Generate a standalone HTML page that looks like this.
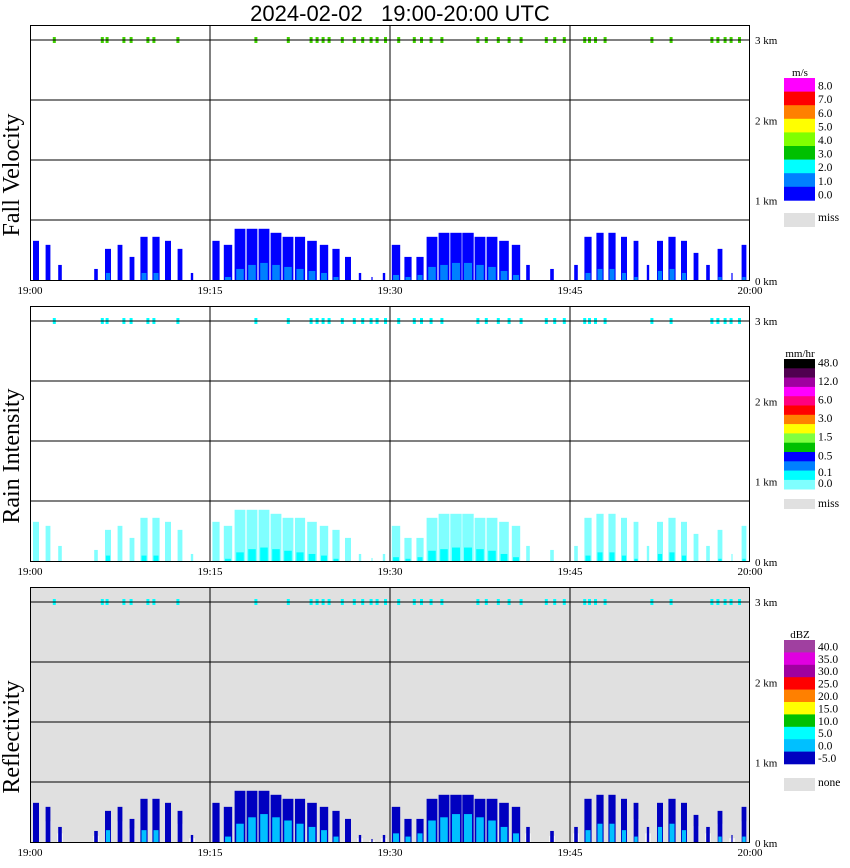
<!DOCTYPE html>
<html><head><meta charset="utf-8"><style>
html,body{margin:0;padding:0;background:#fff;}
svg{display:block;}
text{font-family:"Liberation Serif",serif;}
</style></head><body>
<svg id="chart" width="850" height="868" xmlns="http://www.w3.org/2000/svg">
<text x="400" y="21" text-anchor="middle" font-size="22" style="font-family:'Liberation Sans',sans-serif;white-space:pre" xml:space="preserve">2024-02-02   19:00-20:00 UTC</text>
</svg>
<script>
// ---- data ----
const timeTicks = ["19:00","19:15","19:30","19:45","20:00"];
const kmTicks = ["3 km","2 km","1 km","0 km"];
const kmValues = [3,2,1,0];
// echo top height (km) per minute 0..59
const echoTop = [0.5,0.45,0.2,0,0,0.15,0.4,0.45,0.3,0.55,0.55,0.5,0.4,0.1,0,0.5,0.45,0.65,0.65,0.65,0.6,0.55,0.55,0.5,0.45,0.4,0.3,0.1,0.05,0.1,0.45,0.3,0.3,0.55,0.6,0.6,0.6,0.55,0.55,0.5,0.45,0.2,0,0.15,0,0.2,0.55,0.6,0.6,0.55,0.5,0.2,0.5,0.55,0.5,0.35,0.2,0.4,0.1,0.45];
// coverage fraction per minute
const coverage = [0.5,0.4,0.3,0,0,0.3,0.5,0.4,0.4,0.6,0.6,0.5,0.4,0.2,0,0.6,0.7,0.9,0.9,0.9,0.9,0.9,0.85,0.8,0.7,0.6,0.5,0.2,0.1,0.2,0.7,0.6,0.6,0.9,0.9,0.95,0.95,0.9,0.9,0.8,0.7,0.3,0,0.3,0,0.3,0.6,0.6,0.6,0.5,0.4,0.2,0.5,0.6,0.5,0.4,0.3,0.4,0.1,0.4];
// core (stronger echo) height (km) per minute
const coreTop = [0,0,0,0,0,0,0.2,0,0,0.2,0.2,0,0,0,0,0,0.1,0.3,0.4,0.45,0.4,0.35,0.3,0.25,0.2,0.1,0,0,0,0,0.15,0.1,0.15,0.35,0.4,0.45,0.45,0.4,0.35,0.25,0.15,0,0,0,0,0,0.2,0.3,0.3,0.2,0.1,0,0.25,0.3,0.2,0,0,0.1,0,0.1];
// cloud speckles near 3 km (minutes)
const topDots = [1.9,5.9,6.3,7.7,8.3,9.7,10.2,12.2,18.7,21.4,23.3,23.8,24.3,24.8,25.9,26.9,27.6,28.3,28.8,29.5,30.6,31.9,32.5,33.3,34.2,37.2,37.9,38.9,39.8,40.8,42.9,43.6,44.4,46.1,46.5,47,47.8,51.7,53.3,56.7,57.2,57.8,58.3,59];
const velColors = ["#ff00ff","#ff0000","#ff8000","#ffff00","#80ff00","#00c000","#00ffff","#0080ff","#0000ff"];
const velLabels = ["8.0","7.0","6.0","5.0","4.0","3.0","2.0","1.0","0.0"];
const rainColors = ["#000000","#500050","#a000a0","#ff00ff","#ff0080","#ff0000","#ff8000","#ffff00","#80ff40","#00c000","#0000ff","#0080ff","#00ffff","#80ffff"];
const rainLabels = ["48.0","","12.0","","6.0","","3.0","","1.5","","0.5","","0.1","0.0"];
const dbzColors = ["#a040a0","#e000e0","#a000a0","#ff0000","#ff8000","#ffff00","#00c000","#00ffff","#00c0ff","#0000c0"];
const dbzLabels = ["40.0","35.0","30.0","25.0","20.0","15.0","10.0","5.0","0.0","-5.0"];

const svg=document.getElementById('chart');
const NS="http://www.w3.org/2000/svg";
function mk(tag,attrs,parent){const e=document.createElementNS(NS,tag);for(const k in attrs)e.setAttribute(k,attrs[k]);(parent||svg).appendChild(e);return e;}
const X0=30,X1=750;
const xs=m=>X0+(X1-X0)*m/60;
const panels=[
 {top:25,name:"fall-velocity",title:"Fall Velocity",bg:"#fff",lo:"#0000ff",hi:"#0080ff",coreF:0.5,dot:"#40d000",unit:"m/s",colors:velColors,labels:velLabels,bandTop:78,bandH:13.6,miss:"miss",missY:213,missH:14},
 {top:306,name:"rain-intensity",title:"Rain Intensity",bg:"#fff",lo:"#80ffff",hi:"#00ffff",coreF:0.4,dot:"#00ffff",unit:"mm/hr",colors:rainColors,labels:rainLabels,bandTop:359,bandH:9.3,miss:"miss",missY:499,missH:10},
 {top:587,name:"reflectivity",title:"Reflectivity",bg:"#e0e0e0",lo:"#0000c0",hi:"#00c0ff",coreF:0.8,dot:"#00ffff",unit:"dBZ",colors:dbzColors,labels:dbzLabels,bandTop:640,bandH:12.4,miss:"none",missY:778,missH:13}
];
panels.forEach((p,pi)=>{
 const g=mk('g',{});
 
 
 const bottom=p.top+256;
 const ys=km=>bottom-(bottom-(p.top+15))*km/3;
 const bg=mk('rect',{x:X0,y:p.top,width:X1-X0,height:256,fill:p.bg},g);
 
 
 if(pi===2){
   for(let m=0;m<60;m++){ if(echoTop[m]>0){const w=mk('rect',{x:xs(m)+3,y:ys(echoTop[m]*0.6),width:6,height:bottom-ys(echoTop[m]*0.6),fill:"#f4f4f4"},g);
   
   }}
 }
 for(let m=0;m<60;m++){
   if(echoTop[m]<=0)continue;
   const w=(X1-X0)/60*coverage[m];
   const x=xs(m)+((X1-X0)/60-w)/2;
   const r=mk('rect',{x:x,y:ys(echoTop[m]),width:w,height:bottom-ys(echoTop[m]),fill:p.lo},g);
   
   
   if(coreTop[m]>0){const ch=coreTop[m]*p.coreF;const c=mk('rect',{x:x+w*0.15,y:ys(ch),width:w*0.7,height:bottom-ys(ch),fill:p.hi},g);
   
   }
 }
 topDots.forEach(d=>{const r=mk('rect',{x:xs(d),y:ys(3)-3,width:3,height:6,fill:p.dot},g);
   
   });
 // grid
 [1,2,3].forEach(i=>mk('line',{x1:X0+180*i,x2:X0+180*i,y1:p.top,y2:bottom,stroke:"#000"},g));
 [0,1,2,3].forEach(i=>mk('line',{x1:X0,x2:X1,y1:p.top+15+60*i,y2:p.top+15+60*i,stroke:"#000"},g));
 mk('rect',{x:X0+0.5,y:p.top+0.5,width:X1-X0-1,height:255,fill:"none",stroke:"#000"},g);
 timeTicks.forEach((t,i)=>{const e=mk('text',{x:X0+180*i,y:bottom+13,'text-anchor':'middle','font-size':11},g);e.textContent=t;
   
   });
 kmTicks.forEach((t,i)=>{const e=mk('text',{x:755,y:ys(kmValues[i])+4,'font-size':11},g);e.textContent=t;
   
   });
 const cy=p.top+150;
 const tt=mk('text',{x:0,y:0,'font-size':24,'text-anchor':'middle',transform:`translate(19,${cy}) rotate(-90)`},g);
 tt.textContent=p.title;
 
 
 // legend
 const lg=mk('g',{},g);
 
 
 const u=mk('text',{x:800,y:p.bandTop-2,'text-anchor':'middle','font-size':11},lg);u.textContent=p.unit;
 p.colors.forEach((c,i)=>{mk('rect',{x:784,y:p.bandTop+i*p.bandH,width:31,height:p.bandH+0.3,fill:c},lg);
   if(p.labels[i]){const e=mk('text',{x:818,y:p.bandTop+(i+1)*p.bandH-(pi==1&&i==12?4:2),'font-size':11.5},lg);e.textContent=p.labels[i];}});
 mk('rect',{x:784,y:p.missY,width:31,height:p.missH,fill:"#e0e0e0"},lg);
 const ms=mk('text',{x:818,y:p.missY+8,'font-size':11.5},lg);ms.textContent=p.miss;
});
</script>
</body></html>
